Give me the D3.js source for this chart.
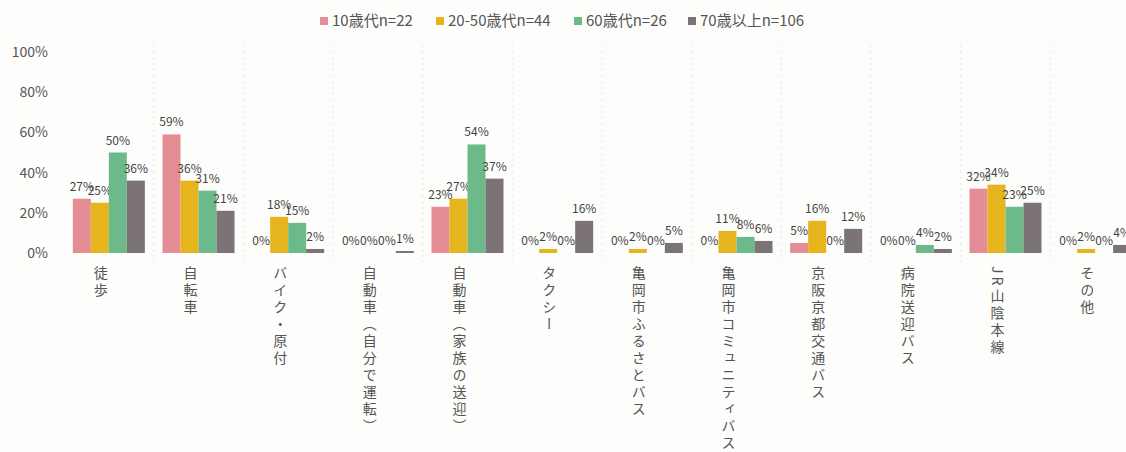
<!DOCTYPE html>
<html>
<head>
<meta charset="utf-8">
<script src="https://cdn.jsdelivr.net/npm/d3@7"></script>
<style>
  body { margin: 0; background: #fdfdfc; }
  svg { display: block; font-family: "Noto Sans CJK JP", "Noto Sans", sans-serif; }
</style>
</head>
<body>
<svg id="chart" width="1126" height="452"></svg>
<script>
// categories (transport modes)
const categories = [
  '徒歩', '自転車', 'バイク・原付', '自動車（自分で運転）', '自動車（家族の送迎）',
  'タクシー', '亀岡市ふるさとバス', '亀岡市コミュニティバス', '京阪京都交通バス',
  '病院送迎バス', 'JR山陰本線', 'その他'
];

// series names
const seriesNames = ['10歳代n=22', '20-50歳代n=44', '60歳代n=26', '70歳以上n=106'];
const seriesColors = ['#e58d94', '#e6b41c', '#6cb98a', '#7b7375'];

// values in percent per series
const teens = [27, 59, 0, 0, 23, 0, 0, 0, 5, 0, 32, 0];
const age20to50 = [25, 36, 18, 0, 27, 2, 2, 11, 16, 0, 34, 2];
const age60s = [50, 31, 15, 0, 54, 0, 0, 8, 0, 4, 23, 0];
const age70plus = [36, 21, 2, 1, 37, 16, 5, 6, 12, 2, 25, 4];

const yTicks = [0, 20, 40, 60, 80, 100];

const seriesValues = [teens, age20to50, age60s, age70plus];

const svg = d3.select('#chart');

const x = d3.scaleBand()
  .domain(categories)
  .range([64, 1140])
  .paddingInner(0)
  .paddingOuter(0);

const inner = d3.scaleBand()
  .domain(seriesNames)
  .range([0, x.bandwidth()])
  .paddingOuter(0.49);

const y = d3.scaleLinear().domain([0, 100]).range([253, 52]);

// faint dotted dividers between categories
svg.append('g')
  .selectAll('line')
  .data(categories.slice(1))
  .join('line')
  .attr('x1', d => x(d))
  .attr('x2', d => x(d))
  .attr('y1', 45)
  .attr('y2', 262)
  .attr('stroke', '#e6e6e4')
  .attr('stroke-dasharray', '2,4');

// y axis labels
svg.append('g')
  .selectAll('text')
  .data(yTicks)
  .join('text')
  .attr('x', 48)
  .attr('y', d => y(d))
  .attr('dy', '0.35em')
  .attr('text-anchor', 'end')
  .attr('font-size', 14)
  .attr('fill', '#555')
  .text(d => d + '%');

// bars
const groups = svg.append('g')
  .selectAll('g')
  .data(categories)
  .join('g')
  .attr('transform', d => `translate(${x(d)},0)`);

const cells = groups.selectAll('g')
  .data((c, i) => seriesNames.map((s, j) => ({ s, j, v: seriesValues[j][i] })))
  .join('g');

cells.append('rect')
  .attr('x', d => inner(d.s))
  .attr('width', inner.bandwidth())
  .attr('y', d => y(d.v))
  .attr('height', d => y(0) - y(d.v))
  .attr('fill', d => seriesColors[d.j]);

cells.append('text')
  .attr('x', d => inner(d.s) + inner.bandwidth() / 2)
  .attr('y', d => y(d.v) - 8)
  .attr('text-anchor', 'middle')
  .attr('font-size', 12)
  .attr('fill', '#444')
  .text(d => d.v + '%');

// vertical category labels
svg.append('g')
  .selectAll('text')
  .data(categories)
  .join('text')
  .attr('x', d => x(d) + x.bandwidth() / 2 - 8)
  .attr('y', 266)
  .style('writing-mode', 'vertical-rl')
  .attr('font-size', 14)
  .attr('letter-spacing', 3)
  .attr('fill', '#555')
  .text(d => d);

// legend
const legendX = [320, 436, 574, 688];
const legend = svg.append('g')
  .selectAll('g')
  .data(seriesNames)
  .join('g')
  .attr('transform', (d, i) => `translate(${legendX[i]},21)`);

legend.append('rect')
  .attr('x', 0)
  .attr('y', -4)
  .attr('width', 8)
  .attr('height', 8)
  .attr('fill', (d, i) => seriesColors[i]);

legend.append('text')
  .attr('x', 12)
  .attr('dy', '0.35em')
  .attr('font-size', 15)
  .attr('fill', '#555')
  .text(d => d);
</script>
</body>
</html>
